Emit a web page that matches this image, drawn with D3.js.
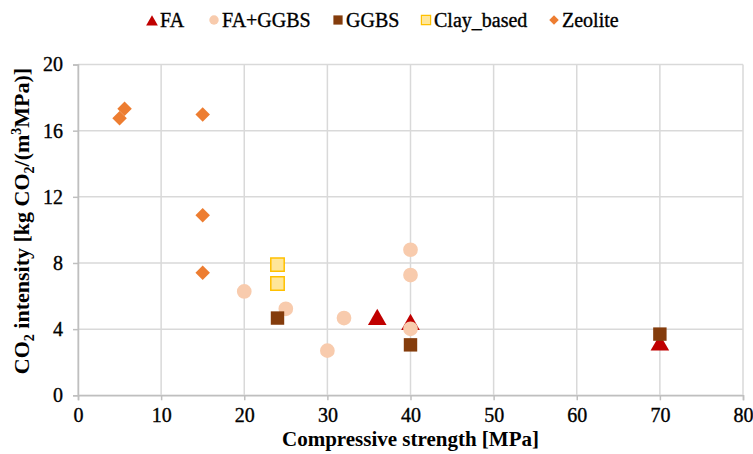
<!DOCTYPE html>
<html>
<head>
<meta charset="utf-8">
<script src="https://cdn.jsdelivr.net/npm/d3@7"></script>
<style>
  body { margin: 0; background: #fff; }
  svg { display: block; font-family: "Liberation Serif", "Times New Roman", serif; }
  .lbl { stroke: #000; stroke-width: 0.35px; }
</style>
</head>
<body>
<svg id="chart"></svg>
<script>
const width = 753, height = 454;
const margin = { left: 78, right: 10, top: 64.5, bottom: 58.7 };

// series data
const faX = [36, 40, 70];
const faY = [4.7, 4.4, 3.15];
const faGgbsX = [20, 25, 32, 30, 40, 40, 40];
const faGgbsY = [6.28, 5.23, 4.67, 2.7, 8.8, 7.27, 4.02];
const ggbsX = [24, 40, 70];
const ggbsY = [4.67, 3.05, 3.7];
const clayX = [24, 24];
const clayY = [7.9, 6.76];
const zeoliteX = [5, 5.6, 15, 15, 15];
const zeoliteY = [16.75, 17.33, 16.97, 10.88, 7.41];

const xTicks = [0, 10, 20, 30, 40, 50, 60, 70, 80];
const yTicks = [0, 4, 8, 12, 16, 20];

const series = [
  { name: "FA", xs: faX, ys: faY, shape: "triangle", fill: "#C00000", stroke: "none" },
  { name: "FA+GGBS", xs: faGgbsX, ys: faGgbsY, shape: "circle", fill: "#F8CBAD", stroke: "none" },
  { name: "GGBS", xs: ggbsX, ys: ggbsY, shape: "square", fill: "#843C0C", stroke: "none" },
  { name: "Clay_based", xs: clayX, ys: clayY, shape: "square", fill: "#FFE699", stroke: "#FFC000" },
  { name: "Zeolite", xs: zeoliteX, ys: zeoliteY, shape: "diamond", fill: "#ED7D31", stroke: "none" }
];

var svg = d3.select("#chart").attr("width", width).attr("height", height);

var x = d3.scaleLinear().domain([0, 80]).range([margin.left, width - margin.right]);
var y = d3.scaleLinear().domain([0, 20]).range([height - margin.bottom, margin.top]);

// grid lines
svg.append("g").selectAll("line").data(xTicks).enter().append("line")
  .attr("x1", d => x(d)).attr("x2", d => x(d))
  .attr("y1", y(20)).attr("y2", y(0))
  .attr("stroke", "#d9d9d9").attr("stroke-width", 1.5);
svg.append("g").selectAll("line").data(yTicks).enter().append("line")
  .attr("x1", x(0)).attr("x2", x(80))
  .attr("y1", d => y(d)).attr("y2", d => y(d))
  .attr("stroke", "#d9d9d9").attr("stroke-width", 1.5);

// axes
var xAxis = svg.append("g")
  .attr("transform", `translate(0,${y(0)})`)
  .call(d3.axisBottom(x).tickValues(xTicks).tickSize(5).tickPadding(8));
var yAxis = svg.append("g")
  .attr("transform", `translate(${x(0)},0)`)
  .call(d3.axisLeft(y).tickValues(yTicks).tickSize(5).tickPadding(10));
[xAxis, yAxis].forEach(function(ax) {
  ax.attr("font-family", null).attr("font-size", null);
  ax.select(".domain").attr("stroke", "#bfbfbf").attr("stroke-width", 1.5);
  ax.selectAll(".tick line").attr("stroke", "#bfbfbf").attr("stroke-width", 1.5);
  ax.selectAll("text").attr("class", "lbl").style("font-family", "'Liberation Serif', serif")
    .attr("font-size", 20).attr("fill", "#000");
});

function symbolFor(shape, size) {
  var t = { triangle: d3.symbolTriangle, circle: d3.symbolCircle, square: d3.symbolSquare, diamond: d3.symbolSquare }[shape];
  return d3.symbol().type(t).size(size)();
}
var markerSize = { triangle: 150, circle: 170, square: 180, diamond: 105 };

function place(shape, px, py) {
  var t = `translate(${px},${py + (shape === "triangle" ? 2 : 0)})`;
  return shape === "diamond" ? t + " rotate(45)" : t;
}

// points
series.forEach(function(s) {
  var pts = s.xs.map((v, i) => ({ x: v, y: s.ys[i] }));
  svg.append("g").selectAll("path").data(pts).enter().append("path")
    .attr("d", symbolFor(s.shape, markerSize[s.shape]))
    .attr("transform", d => place(s.shape, x(d.x), y(d.y)))
    .attr("fill", s.fill)
    .attr("stroke", s.stroke)
    .attr("stroke-width", 1.5);
});

// legend
var legendX = [152, 214, 338, 426, 554];
var legendSize = { triangle: 60, circle: 70, square: 85, diamond: 45 };
var legend = svg.append("g");
series.forEach(function(s, i) {
  legend.append("path")
    .attr("d", symbolFor(s.shape, legendSize[s.shape]))
    .attr("transform", place(s.shape, legendX[i], 20))
    .attr("fill", s.fill)
    .attr("stroke", s.stroke)
    .attr("stroke-width", 1.2);
  legend.append("text")
    .attr("class", "lbl")
    .attr("x", legendX[i] + 8)
    .attr("y", 27)
    .attr("font-size", 20)
    .text(s.name);
});

// axis titles
svg.append("text")
  .attr("x", (x(0) + x(80)) / 2)
  .attr("y", 446)
  .attr("text-anchor", "middle")
  .attr("font-weight", "bold")
  .attr("font-size", 21)
  .text("Compressive strength [MPa]");

var yt = svg.append("text")
  .attr("transform", `translate(29,221) rotate(-90)`)
  .attr("text-anchor", "middle")
  .attr("font-weight", "bold")
  .attr("font-size", 22);
yt.append("tspan").text("CO");
yt.append("tspan").attr("font-size", 14).attr("dy", 5).text("2");
yt.append("tspan").attr("dy", -5).text(" intensity [kg CO");
yt.append("tspan").attr("font-size", 14).attr("dy", 5).text("2");
yt.append("tspan").attr("dy", -5).text("/(m");
yt.append("tspan").attr("font-size", 14).attr("dy", -8).text("3");
yt.append("tspan").attr("dy", 8).text("MPa)]");
</script>
</body>
</html>
